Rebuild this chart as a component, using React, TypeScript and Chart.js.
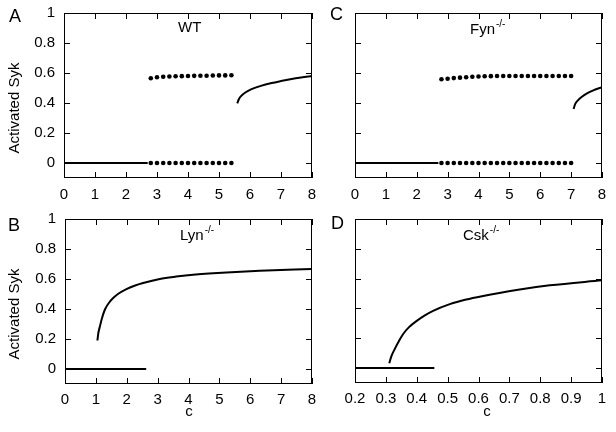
import React, { useEffect, useRef } from 'react';
import { Chart, registerables } from 'chart.js';
Chart.register(...registerables);

// ---------------- data ----------------
const Y_TICKS = [0, 0.2, 0.4, 0.6, 0.8, 1];
const X_TICKS_C = [0, 1, 2, 3, 4, 5, 6, 7, 8];
const X_TICKS_CSK = [0.2, 0.3, 0.4, 0.5, 0.6, 0.7, 0.8, 0.9, 1];

// A: WT
const WT_BASE_X = [0, 2.7];
const WT_BASE_Y = [0, 0];
const WT_DOT_X = [2.8, 3.0, 3.2, 3.4, 3.6, 3.8, 4.0, 4.2, 4.4, 4.6, 4.8, 5.0, 5.2, 5.4];
const WT_DOT_LOW = [0, 0, 0, 0, 0, 0, 0, 0, 0, 0, 0, 0, 0, 0];
const WT_DOT_HIGH = [0.565, 0.572, 0.575, 0.577, 0.578, 0.579, 0.58, 0.581, 0.582, 0.582, 0.583, 0.584, 0.584, 0.585];
const WT_CURVE_X = [5.59, 5.64, 5.72, 5.85, 6.05, 6.35, 6.7, 7.0, 7.3, 7.65, 8.0];
const WT_CURVE_Y = [0.398, 0.425, 0.448, 0.47, 0.492, 0.514, 0.533, 0.546, 0.558, 0.57, 0.58];

// C: Fyn-/-
const FYN_BASE_X = [0, 2.7];
const FYN_BASE_Y = [0, 0];
const FYN_DOT_X = [2.8, 3.0, 3.2, 3.4, 3.6, 3.8, 4.0, 4.2, 4.4, 4.6, 4.8, 5.0, 5.2, 5.4, 5.6, 5.8, 6.0, 6.2, 6.4, 6.6, 6.8, 7.0];
const FYN_DOT_LOW = [0, 0, 0, 0, 0, 0, 0, 0, 0, 0, 0, 0, 0, 0, 0, 0, 0, 0, 0, 0, 0, 0];
const FYN_DOT_HIGH = [0.558, 0.562, 0.566, 0.569, 0.572, 0.575, 0.577, 0.578, 0.579, 0.58, 0.58, 0.58, 0.58, 0.58, 0.58, 0.58, 0.58, 0.58, 0.58, 0.58, 0.58, 0.58];
const FYN_CURVE_X = [7.08, 7.13, 7.22, 7.35, 7.5, 7.7, 8.0];
const FYN_CURVE_Y = [0.36, 0.392, 0.418, 0.442, 0.463, 0.483, 0.505];

// B: Lyn-/-
const LYN_BASE_X = [0, 2.63];
const LYN_BASE_Y = [0, 0];
const LYN_CURVE_X = [1.05, 1.08, 1.13, 1.2, 1.29, 1.42, 1.56, 1.75, 1.99, 2.25, 2.53, 3.07, 3.6, 4.15, 5.23, 6.31, 8.0];
const LYN_CURVE_Y = [0.19, 0.24, 0.284, 0.34, 0.395, 0.44, 0.473, 0.505, 0.533, 0.555, 0.573, 0.6, 0.616, 0.629, 0.644, 0.655, 0.667];

// D: Csk-/-
const CSK_BASE_X = [0.2, 0.457];
const CSK_BASE_Y = [0, 0];
const CSK_CURVE_X = [0.311, 0.318, 0.329, 0.342, 0.356, 0.375, 0.4, 0.425, 0.453, 0.507, 0.56, 0.615, 0.723, 0.831, 1.0];
const CSK_CURVE_Y = [0.033, 0.08, 0.129, 0.18, 0.229, 0.275, 0.317, 0.352, 0.384, 0.429, 0.46, 0.484, 0.524, 0.555, 0.589];

// ---------------- helpers ----------------
const FONT = '"Liberation Sans", Arial, sans-serif';
const TXT = 15;
const pts = (xs: number[], ys: number[]) => xs.map((x, i) => ({ x, y: ys[i] }));

const lineDs = (xs: number[], ys: number[]) => ({
  data: pts(xs, ys),
  showLine: true,
  pointRadius: 0,
  borderColor: '#000',
  borderWidth: 2,
  cubicInterpolationMode: 'monotone',
  fill: false,
});
const dotDs = (xs: number[], ys: number[]) => ({
  data: pts(xs, ys),
  showLine: false,
  pointRadius: 2.3,
  pointBorderWidth: 0,
  backgroundColor: '#000',
  borderColor: '#000',
});

const decorPlugin = {
  id: 'panelDecor',
  afterDatasetsDraw(chart: any) {
    const o = chart.options.plugins.panelDecor;
    if (!o) return;
    const { ctx, chartArea } = chart;
    const { left, right, top, bottom } = chartArea;
    const xs = chart.scales.x;
    const ys = chart.scales.y;
    const L = 6;
    ctx.save();
    ctx.strokeStyle = '#000';
    ctx.lineWidth = 1;
    ctx.beginPath();
    xs.ticks.forEach((t: any) => {
      const px = Math.round(xs.getPixelForValue(t.value)) + 0.5;
      ctx.moveTo(px, bottom);
      ctx.lineTo(px, bottom - L);
      ctx.moveTo(px, top);
      ctx.lineTo(px, top + L);
    });
    ys.ticks.forEach((t: any) => {
      const py = Math.round(ys.getPixelForValue(t.value)) + 0.5;
      ctx.moveTo(left, py);
      ctx.lineTo(left + L, py);
      ctx.moveTo(right, py);
      ctx.lineTo(right - L, py);
    });
    ctx.stroke();
    ctx.strokeRect(left + 0.5, top + 0.5, right - left - 1, bottom - top - 1);

    ctx.fillStyle = '#000';
    // panel letter
    ctx.font = `18px ${FONT}`;
    ctx.textAlign = 'center';
    ctx.textBaseline = 'middle';
    ctx.fillText(o.letter, o.letterPos[0], o.letterPos[1]);
    // panel name with superscript
    ctx.font = `${TXT}px ${FONT}`;
    ctx.textAlign = 'left';
    ctx.fillText(o.name, o.namePos[0], o.namePos[1]);
    if (o.sup) {
      const w = ctx.measureText(o.name).width;
      ctx.font = `10px ${FONT}`;
      ctx.fillText(o.sup, o.namePos[0] + w + 1, o.namePos[1] - 6);
    }
    // x title
    if (o.xTitle) {
      ctx.font = `${TXT}px ${FONT}`;
      ctx.textAlign = 'center';
      ctx.fillText(o.xTitle, o.xTitlePos[0], o.xTitlePos[1]);
    }
    // y title
    if (o.yTitle) {
      ctx.font = `${TXT}px ${FONT}`;
      ctx.textAlign = 'center';
      ctx.translate(o.yTitlePos[0], o.yTitlePos[1]);
      ctx.rotate(-Math.PI / 2);
      ctx.fillText(o.yTitle, 0, 0);
    }
    ctx.restore();
  },
};

type PanelProps = {
  box: { left: number; top: number; w: number; h: number };
  plot: { left: number; top: number; right: number; bottom: number };
  datasets: any[];
  xMin: number;
  xMax: number;
  xTicks: number[];
  showY: boolean;
  xPad: number;
  decor: any;
};

function Panel(p: PanelProps) {
  const ref = useRef<HTMLCanvasElement>(null);
  useEffect(() => {
    const canvas = ref.current!;
    const chart = new Chart(canvas, {
      type: 'scatter',
      data: { datasets: p.datasets },
      plugins: [decorPlugin],
      options: {
        responsive: false,
        animation: false,
        events: [],
        layout: {
          padding: { left: 0, top: p.plot.top, right: p.box.w - p.plot.right, bottom: 0 },
        },
        plugins: {
          legend: { display: false },
          tooltip: { enabled: false },
          panelDecor: p.decor,
        } as any,
        scales: {
          x: {
            type: 'linear',
            min: p.xMin,
            max: p.xMax,
            grid: { display: false, drawTicks: false },
            border: { display: false },
            afterBuildTicks: (s: any) => {
              s.ticks = p.xTicks.map((v) => ({ value: v }));
            },
            afterFit: (s: any) => {
              s.height = p.box.h - p.plot.bottom;
              s.paddingLeft = 0;
              s.paddingRight = 0;
              s.paddingTop = 0;
              s.paddingBottom = 0;
            },
            ticks: {
              color: '#000',
              padding: p.xPad,
              maxRotation: 0,
              autoSkip: false,
              font: { family: FONT, size: TXT },
              callback: (v: any) => String(v),
            },
          },
          y: {
            type: 'linear',
            min: -0.1,
            max: 1,
            grid: { display: false, drawTicks: false },
            border: { display: false },
            afterBuildTicks: (s: any) => {
              s.ticks = Y_TICKS.map((v) => ({ value: v }));
            },
            afterFit: (s: any) => {
              s.width = p.plot.left;
              s.paddingLeft = 0;
              s.paddingRight = 0;
              s.paddingTop = 0;
              s.paddingBottom = 0;
            },
            ticks: {
              display: p.showY,
              color: '#000',
              padding: 9,
              font: { family: FONT, size: TXT },
              callback: (v: any) => String(v),
            },
          },
        },
      } as any,
    });
    return () => chart.destroy();
  }, []);
  return (
    <div style={{ position: 'absolute', left: p.box.left, top: p.box.top, width: p.box.w, height: p.box.h }}>
      <canvas ref={ref} width={p.box.w} height={p.box.h} style={{ display: 'block' }} />
    </div>
  );
}

export default function App() {
  return (
    <div style={{ position: 'absolute', left: 0, top: 0, width: 616, height: 432, background: '#fff', overflow: 'hidden' }}>
      <Panel
        box={{ left: 0, top: 0, w: 316, h: 210 }}
        plot={{ left: 64, top: 13, right: 312, bottom: 178 }}
        xMin={0}
        xMax={8}
        xTicks={X_TICKS_C}
        showY={true}
        xPad={8}
        datasets={[
          lineDs(WT_BASE_X, WT_BASE_Y),
          dotDs(WT_DOT_X, WT_DOT_LOW),
          dotDs(WT_DOT_X, WT_DOT_HIGH),
          lineDs(WT_CURVE_X, WT_CURVE_Y),
        ]}
        decor={{
          letter: 'A', letterPos: [15, 17.5],
          name: 'WT', sup: '', namePos: [178, 28],
          yTitle: 'Activated Syk', yTitlePos: [15, 108],
        }}
      />
      <Panel
        box={{ left: 316, top: 0, w: 300, h: 210 }}
        plot={{ left: 39, top: 13, right: 286, bottom: 178 }}
        xMin={0}
        xMax={8}
        xTicks={X_TICKS_C}
        showY={false}
        xPad={8}
        datasets={[
          lineDs(FYN_BASE_X, FYN_BASE_Y),
          dotDs(FYN_DOT_X, FYN_DOT_LOW),
          dotDs(FYN_DOT_X, FYN_DOT_HIGH),
          lineDs(FYN_CURVE_X, FYN_CURVE_Y),
        ]}
        decor={{
          letter: 'C', letterPos: [20.5, 15.5],
          name: 'Fyn', sup: '-/-', namePos: [154, 30],
        }}
      />
      <Panel
        box={{ left: 0, top: 210, w: 316, h: 222 }}
        plot={{ left: 65, top: 9, right: 312, bottom: 174 }}
        xMin={0}
        xMax={8}
        xTicks={X_TICKS_C}
        showY={true}
        xPad={7}
        datasets={[
          lineDs(LYN_BASE_X, LYN_BASE_Y),
          lineDs(LYN_CURVE_X, LYN_CURVE_Y),
        ]}
        decor={{
          letter: 'B', letterPos: [14, 16],
          name: 'Lyn', sup: '-/-', namePos: [180, 26],
          yTitle: 'Activated Syk', yTitlePos: [15, 104],
          xTitle: 'c', xTitlePos: [189, 202],
        }}
      />
      <Panel
        box={{ left: 316, top: 210, w: 300, h: 222 }}
        plot={{ left: 39, top: 9, right: 286, bottom: 173 }}
        xMin={0.2}
        xMax={1}
        xTicks={X_TICKS_CSK}
        showY={false}
        xPad={7}
        datasets={[
          lineDs(CSK_BASE_X, CSK_BASE_Y),
          lineDs(CSK_CURVE_X, CSK_CURVE_Y),
        ]}
        decor={{
          letter: 'D', letterPos: [21.5, 14.5],
          name: 'Csk', sup: '-/-', namePos: [147, 26],
          xTitle: 'c', xTitlePos: [171, 202],
        }}
      />
    </div>
  );
}
